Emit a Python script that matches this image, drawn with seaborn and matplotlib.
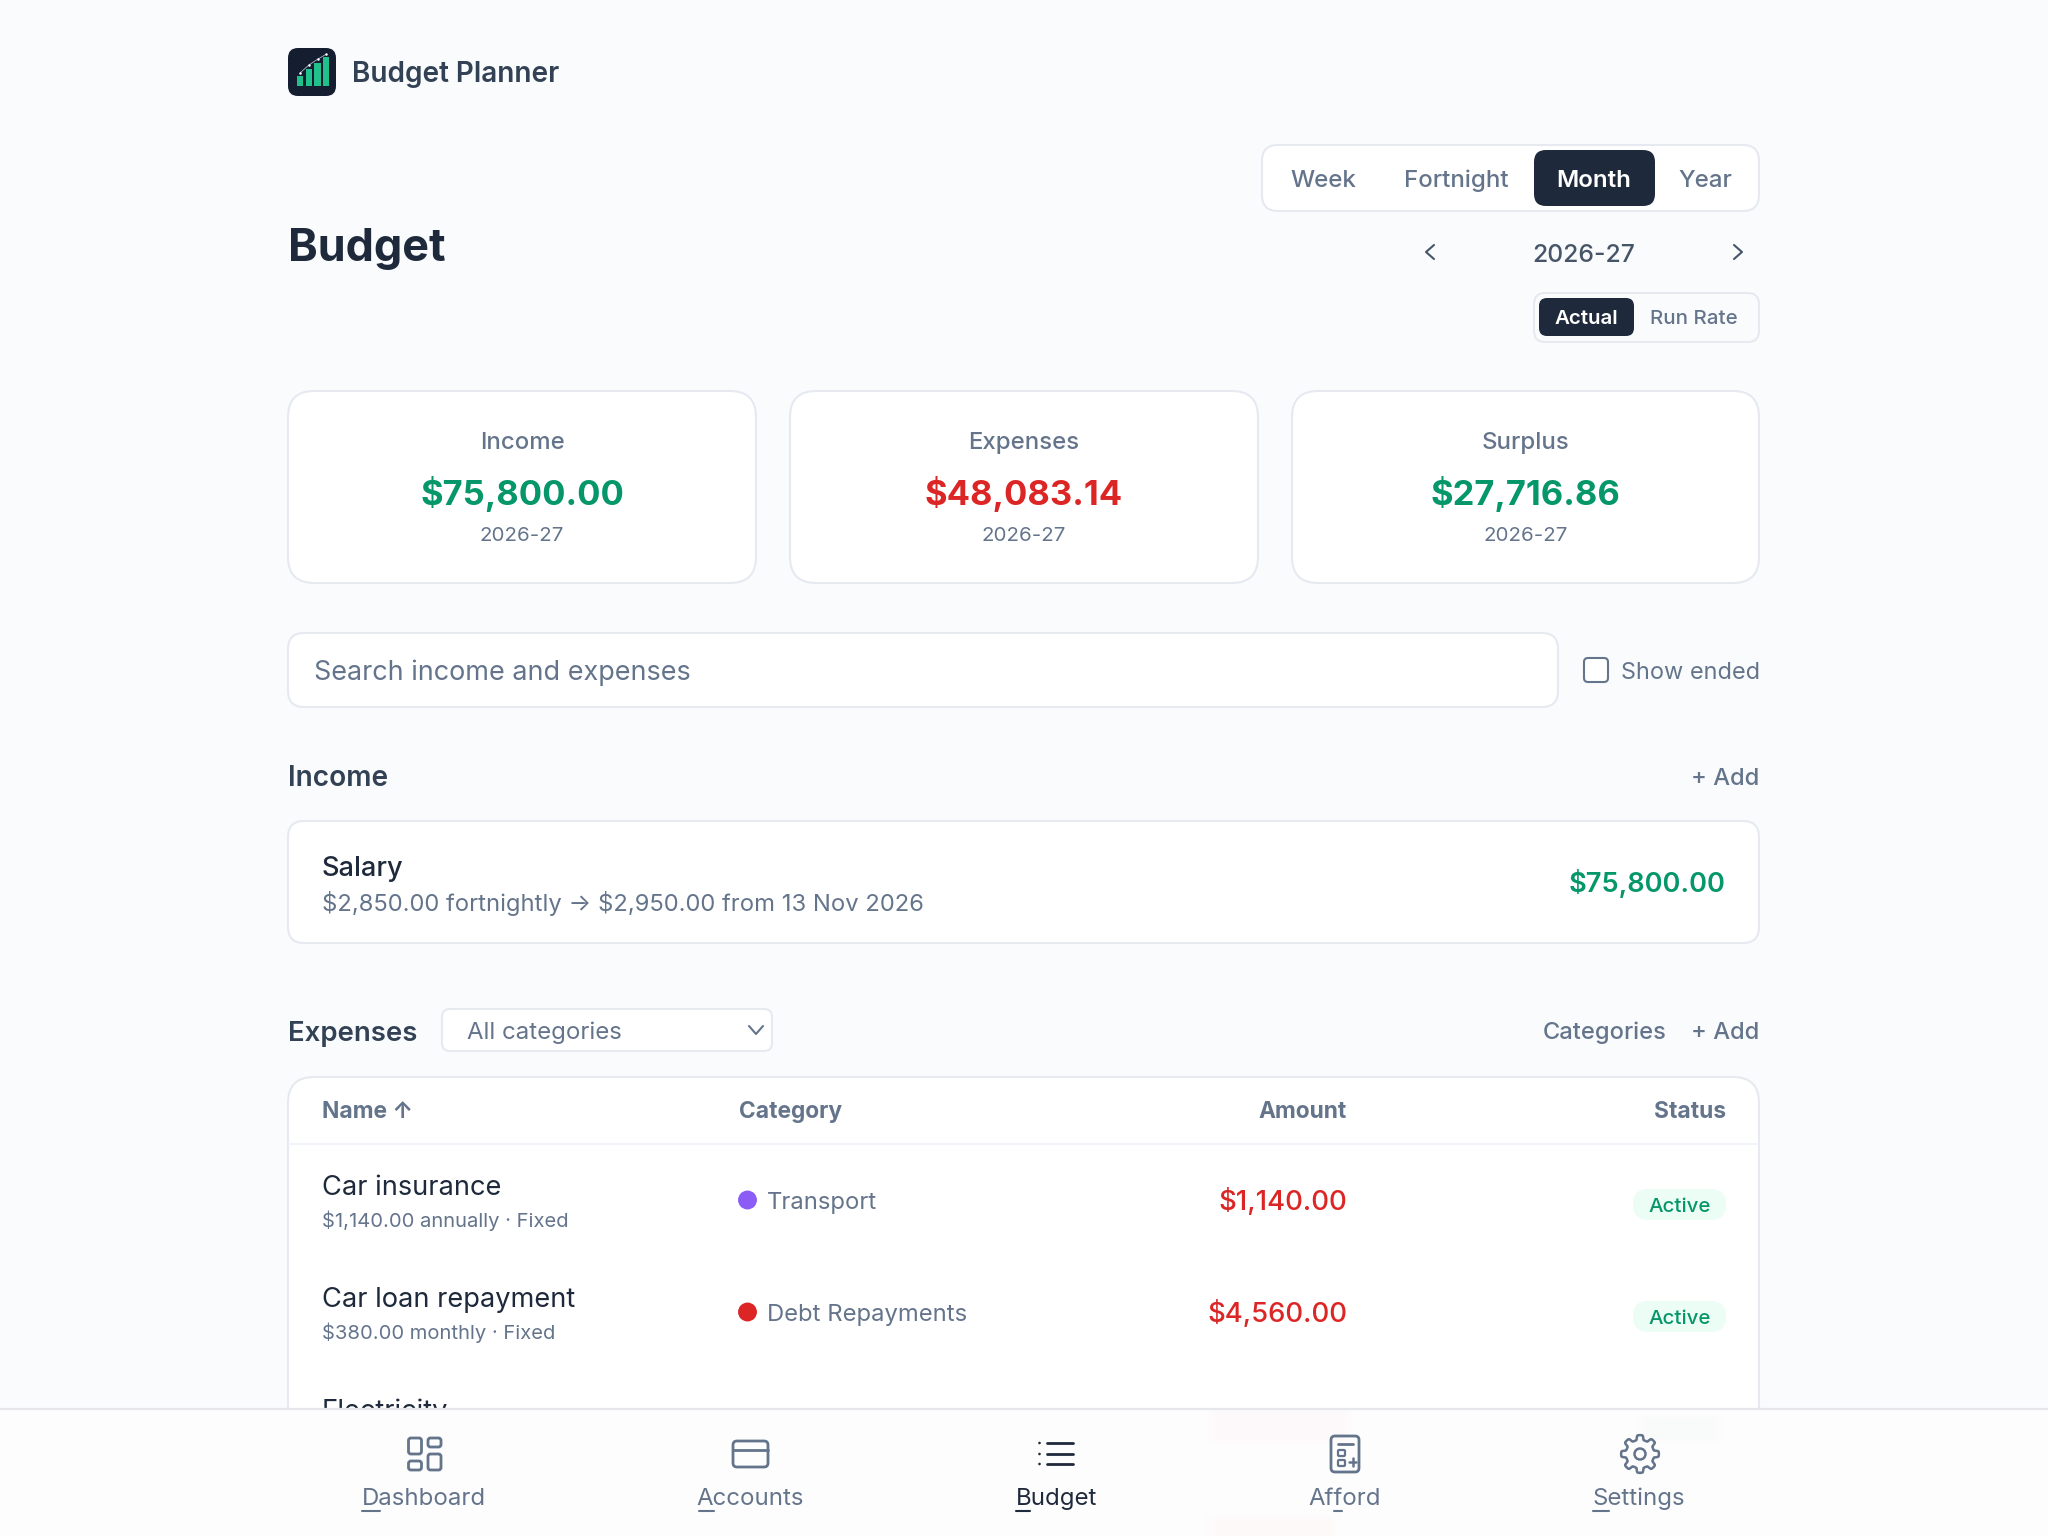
import numpy as np
import matplotlib
matplotlib.use("Agg")
import matplotlib.pyplot as plt
from matplotlib.patches import FancyBboxPatch, Rectangle, Circle
import seaborn as sns
import pandas as pd

sns.set_theme(style="white")
plt.rcParams['font.family'] = ['Inter', 'DejaVu Sans']
plt.rcParams['text.parse_math'] = False

# ---- content ----
app_title = "Budget Planner"
page_title = "Budget"
periods = ["Week", "Fortnight", "Month", "Year"]
period_centres = [1323, 1456, 1594, 1705]
period_year = "2026-27"
card_labels = ["Income", "Expenses", "Surplus"]
card_values = ["$75,800.00", "$48,083.14", "$27,716.86"]
card_colors = ["#059669", "#dc2626", "#059669"]
expense_names = ["Car insurance", "Car loan repayment", "Electricity"]
expense_subs = ["$1,140.00 annually · Fixed", "$380.00 monthly · Fixed"]
expense_cats = ["Transport", "Debt Repayments"]
expense_cat_colors = ["#8b5cf6", "#dc2626"]
expense_amounts = ["$1,140.00", "$4,560.00"]
nav_labels = ["Dashboard", "Accounts", "Budget", "Afford", "Settings"]
nav_centres = [424, 750, 1057, 1345, 1639]
logo_bars = [10.0, 17.3, 23.3, 28.7]
logo_trend = [13.3, 21.0, 26.7, 31.7]

BG = "#f9fbfd"; BORDER = "#e6eaf0"; DARK = "#1e293b"; SLATE = "#64748b"; MID = "#475569"

fig = plt.figure(figsize=(20.48, 15.36), dpi=100, facecolor=BG)
ax = fig.add_axes([0, 0, 1, 1])
ax.set_xlim(0, 2048); ax.set_ylim(1536, 0); ax.axis("off")

def T(x, y, s, px, color=DARK, weight="normal", ha="left", z=5):
    return ax.text(x, y, s, fontsize=px * 0.72, color=color, fontweight=weight, ha=ha, va="baseline", zorder=z)

def RR(x0, y0, x1, y1, r, fc="white", ec=BORDER, lw=1.5, z=2, **kw):
    p = FancyBboxPatch((x0, y0), x1 - x0, y1 - y0, boxstyle=f"round,pad=0,rounding_size={r}",
                       fc=fc, ec=ec, lw=lw, zorder=z, **kw)
    ax.add_patch(p)
    return p

def L(xs, ys, color=SLATE, lw=1.9, z=5):
    ax.plot(xs, ys, color=color, lw=lw, zorder=z, solid_capstyle="round", solid_joinstyle="round")

# logo
RR(288, 48, 336, 96, 10, fc="#141e30", ec="none", z=3)
T(352, 82, app_title, 28, "#334155", "semibold")
lax = fig.add_axes([296 / 2048, 1 - 86 / 1536, 34.4 / 2048, 36 / 1536], zorder=6)
lax.patch.set_alpha(0)
logo_df = pd.DataFrame({"i": [0, 1, 2, 3], "v": logo_bars, "t": logo_trend})
sns.barplot(data=logo_df, x="i", y="v", color="#22c08a", width=0.72, saturation=1, linewidth=0, ax=lax)
sns.lineplot(x=logo_df["i"].values, y=logo_df["t"].values, color="#aab6c6", lw=0.6, marker="o", ms=1.8,
             mec="none", mfc="white", ax=lax)
lax.set_xlim(-0.5, 3.5); lax.set_ylim(0, 36); lax.axis("off")

# heading
T(288, 261, page_title, 45, DARK, "bold")

# period selector
RR(1262, 145, 1759, 211, 16)
RR(1534, 150, 1655, 206, 12, fc=DARK, ec="none", z=3)
for lab, cx in zip(periods, period_centres):
    act = lab == "Month"
    T(cx, 187, lab, 24.1, "white" if act else SLATE, "semibold" if act else "medium", "center")
T(1584, 262, period_year, 24.7, MID, "medium", "center")
L([1434, 1426, 1434], [245, 252, 259], MID, 1.5)
L([1734, 1742, 1734], [245, 252, 259], MID, 1.5)
RR(1534, 293, 1759, 342, 11, fc=BG)
RR(1539, 298, 1634, 336, 8, fc=DARK, ec="none", z=3)
T(1586, 324, "Actual", 20.5, "white", "semibold", "center")
T(1694, 324, "Run Rate", 20.5, SLATE, "medium", "center")

# summary cards
for x0, x1, lab, val, col in zip([288, 790, 1292], [756, 1258, 1759], card_labels, card_values, card_colors):
    c = (x0 + x1) / 2
    RR(x0, 391, x1, 583, 26)
    T(c, 449, lab, 24, SLATE, "medium", "center")
    T(c, 505.5, val, 34.5, col, "bold", "center")
    T(c, 541, period_year, 20.5, SLATE, "normal", "center")

# search
RR(288, 633, 1558, 707, 16)
T(314, 680, "Search income and expenses", 27, SLATE)
RR(1584, 658, 1608, 682, 4, ec=SLATE, lw=1.5)
T(1621, 679, "Show ended", 23.5, SLATE)

# income
T(288, 786, "Income", 28, "#334155", "semibold")
T(1759, 785, "+ Add", 23.7, SLATE, "medium", "right")
RR(288, 821, 1759, 943, 16)
T(322, 876, "Salary", 27.2, DARK, "medium")
T(322, 911, "$2,850.00 fortnightly → $2,950.00 from 13 Nov 2026", 23.8, SLATE)
T(1726, 892, "$75,800.00", 27.2, "#059669", "semibold", "right")

# expenses
T(288, 1041, "Expenses", 27.6, "#334155", "semibold")
RR(442, 1009, 772, 1051, 8)
T(467, 1039, "All categories", 24, SLATE)
L([749, 756, 763], [1026, 1034, 1026], SLATE, 1.5)
T(1667, 1039, "Categories", 23.7, SLATE, "medium", "right")
T(1759, 1039, "+ Add", 23.7, SLATE, "medium", "right")

RR(288, 1077, 1759, 1600, 26)
T(322, 1118, "Name ↑", 22.8, SLATE, "bold")
T(739, 1118, "Category", 22.8, SLATE, "bold")
T(1347, 1118, "Amount", 22.8, SLATE, "bold", "right")
T(1726, 1118, "Status", 22.8, SLATE, "bold", "right")
L([289, 1758], [1144, 1144], "#f1f5f9", 1.5, z=3)

row_dy = 112
dot_df = pd.DataFrame({"x": [747.5, 747.5], "y": [1200, 1200 + row_dy], "c": expense_cats})
sns.scatterplot(data=dot_df, x="x", y="y", hue="c", palette=dict(zip(expense_cats, expense_cat_colors)),
                s=185, linewidth=0, legend=False, ax=ax, zorder=4)
ax.set_xlim(0, 2048); ax.set_ylim(1536, 0); ax.axis("off")
for i, nm in enumerate(expense_names):
    T(322, 1195 + i * row_dy, nm, 27.2, DARK)
for i in range(2):
    dy = i * row_dy
    T(322, 1227 + dy, expense_subs[i], 20.2, SLATE)
    T(767, 1209 + dy, expense_cats[i], 23.8, SLATE)
    T(1347, 1210 + dy, expense_amounts[i], 27.5, "#dc2626", "medium", "right")
    RR(1633, 1189 + dy, 1726, 1220 + dy, 15, fc="#ecfdf5", ec="none", z=3)
    T(1679.5, 1212 + dy, "Active", 20.5, "#059669", "medium", "center")

# bottom navigation
ax.add_patch(Rectangle((0, 1408), 2048, 130, fc="#fdfdfe", ec="none", zorder=8))
L([0, 2048], [1408.5, 1408.5], "#e5e7eb", 1.6, z=9)
for (gx, gy, gw, gh, gc) in [(1220, 1414, 120, 24, "#fdeeee"), (1650, 1420, 60, 18, "#f0faf5"), (1216, 1520, 115, 16, "#fff4ee")]:
    for k in range(4):
        ax.add_patch(Rectangle((gx - k * 4, gy - k * 2), gw + k * 8, gh + k * 4, fc=gc, ec="none", alpha=0.07, zorder=8.5))

under = [(362, 380), (699, 714), (1016, 1030), (1334, 1342), (1593, 1609)]
for lab, cx, (u0, u1) in zip(nav_labels, nav_centres, under):
    col = DARK if lab == "Budget" else SLATE
    T(cx, 1505, lab, 24, col, "normal", "center", z=10)
    L([u0, u1], [1511, 1511], col, 1.5, z=10)

def icon_rect(x0, y0, x1, y1, r=2.5, lw=2.0, col=SLATE):
    RR(x0, y0, x1, y1, r, fc="none", ec=col, lw=lw, z=10)

# dashboard
icon_rect(408.5, 1438, 421.5, 1454); icon_rect(428, 1438, 441, 1447)
icon_rect(408.5, 1461, 421.5, 1470); icon_rect(428, 1454, 441, 1470)
# accounts
icon_rect(733, 1441, 768, 1467, r=4); L([733, 768], [1450, 1450], SLATE, 2.0, z=10)
# budget
for yy in [1443, 1454, 1464]:
    L([1047, 1073], [yy, yy], DARK, 2.0, z=10)
    ax.add_patch(Circle((1039.5, yy), 1.3, fc=DARK, ec="none", zorder=10))
# afford
icon_rect(1331, 1436, 1359, 1472, r=4)
L([1338, 1353], [1444, 1444], SLATE, 2.0, z=10)
icon_rect(1338, 1450, 1345, 1456, r=1.2, lw=1.6); icon_rect(1338, 1460, 1345, 1466, r=1.2, lw=1.6)
L([1349, 1356], [1462, 1462], SLATE, 1.8, z=10); L([1352.5, 1352.5], [1458, 1466], SLATE, 1.8, z=10)
# settings
th = np.linspace(0, 2 * np.pi, 400)
rad = 16.5 + 2.4 * np.tanh(3 * np.cos(8 * th))
ax.plot(1640 + rad * np.sin(th), 1454 + rad * np.cos(th), color=SLATE, lw=1.8, zorder=10)
ax.add_patch(Circle((1640, 1454), 5.5, fc="none", ec=SLATE, lw=1.8, zorder=10))

fig.savefig("out.png", dpi=100, facecolor=BG)
